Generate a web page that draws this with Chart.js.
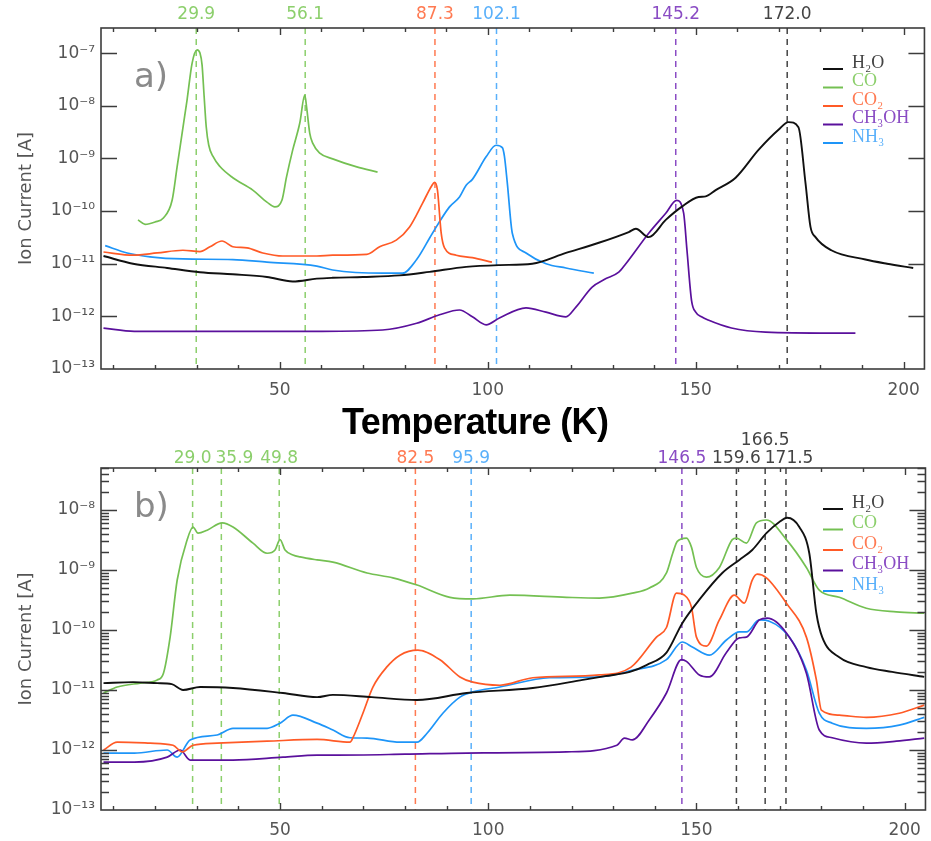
<!DOCTYPE html>
<html>
<head>
<meta charset="utf-8">
<script src="https://cdn.jsdelivr.net/npm/chart.js@4.4.0/dist/chart.umd.min.js"></script>
<style>
  html,body{margin:0;padding:0;background:#fff;}
  #wrap{position:relative;width:931px;height:841px;overflow:hidden;}
  canvas{position:absolute;left:0;}
  #xtitle{position:absolute;left:342px;top:404px;font-family:"Liberation Sans",Arial,sans-serif;font-weight:bold;font-size:36px;line-height:36px;letter-spacing:-0.6px;color:#000;white-space:nowrap;}
</style>
</head>
<body>
<div id="wrap">
  <canvas id="ca" width="931" height="430" style="top:0"></canvas>
  <canvas id="cb" width="931" height="411" style="top:430px"></canvas>
  <div id="xtitle">Temperature (K)</div>
</div>
<script>
// ---------- species ----------
const legendLabels = ['H₂O', 'CO', 'CO₂', 'CH₃OH', 'NH₃'];
const lineColors = ['#111111', '#74c052', '#ff5a26', '#5a109c', '#1e95f8'];
const textColors = ['#444444', '#8ccf6c', '#ff7a52', '#8a4cc4', '#5ab0fa'];

// ---------- panel a) data ----------
const tA_H2O = [7.6, 14.7, 22.9, 30.8, 38.7, 46.9, 53.1, 58.9, 62.7, 70, 78.8, 86, 94.8, 102.8, 110.7, 118.8, 126.7, 133.9, 135.6, 138.7, 142.8, 146.6, 150.7, 152.4, 154.8, 159.6, 165.1, 169.9, 172.3, 174.7, 176.4, 177.6, 178.8, 182.6, 190.8, 196, 202.3];
const vA_H2O = [1.4e-11, 1.0e-11, 8.3e-12, 6.9e-12, 6.3e-12, 5.6e-12, 4.6e-12, 5.2e-12, 5.4e-12, 5.6e-12, 6.0e-12, 7.0e-12, 8.7e-12, 9.4e-12, 1.0e-11, 1.6e-11, 2.5e-11, 4.0e-11, 4.6e-11, 3.2e-11, 6.8e-11, 1.2e-10, 1.85e-10, 1.9e-10, 2.5e-10, 4.3e-10, 1.45e-9, 3.5e-9, 4.9e-9, 3.9e-9, 3.4e-10, 5.0e-11, 3.2e-11, 1.8e-11, 1.2e-11, 1.0e-11, 8.3e-12];

const tA_CO = [15.9, 17.6, 20, 22, 24.1, 25.3, 26.5, 27.7, 28.9, 30.1, 30.8, 31.3, 31.8, 32.3, 32.9, 33.9, 35.6, 38.7, 43.5, 46.9, 48.8, 50.5, 51.6, 53.1, 54.8, 56, 56.4, 57.2, 57.9, 59.6, 62.7, 68.5, 73.5];
const vA_CO = [6.8e-11, 5.6e-11, 6.2e-11, 7.4e-11, 1.6e-10, 6.9e-10, 3e-9, 1.3e-8, 6.4e-8, 1.15e-7, 1.0e-7, 6e-8, 1.5e-8, 4e-9, 1.8e-9, 1.1e-9, 7e-10, 4.3e-10, 2.5e-10, 1.48e-10, 1.2e-10, 1.6e-10, 4.4e-10, 1.45e-9, 4.7e-9, 1.6e-8, 1.0e-8, 3e-9, 1.95e-9, 1.26e-9, 9.8e-10, 6.9e-10, 5.5e-10];

const tA_CO2 = [7.6, 14.7, 20.5, 26.7, 30.8, 33.2, 36.1, 38.7, 42.1, 45.9, 50.7, 58.9, 62.7, 70.9, 74, 78, 81.2, 84.3, 86.5, 87.2, 87.9, 88.8, 89.6, 92.4, 96.3, 101];
const vA_CO2 = [1.67e-11, 1.45e-11, 1.6e-11, 1.8e-11, 1.7e-11, 2.1e-11, 2.7e-11, 2.1e-11, 2.0e-11, 1.6e-11, 1.4e-11, 1.4e-11, 1.45e-11, 1.5e-11, 2.1e-11, 2.8e-11, 5e-11, 1.4e-10, 3e-10, 3.5e-10, 2.5e-10, 3.8e-11, 2e-11, 1.45e-11, 1.3e-11, 1.07e-11];

const tA_CH3OH = [7.6, 15, 30, 45, 60, 74.7, 82.9, 88.4, 93.2, 96.3, 99.6, 102.8, 109.2, 114, 118.8, 121.2, 125.1, 128, 131.5, 133.2, 138.7, 142.8, 145.4, 147.1, 147.9, 149, 150, 151.4, 153, 158.6, 166.8, 182.6, 188.4];
const vA_CH3OH = [6e-13, 5.2e-13, 5.2e-13, 5.2e-13, 5.2e-13, 5.5e-13, 7.4e-13, 1.07e-12, 1.32e-12, 9.8e-13, 6.9e-13, 9.3e-13, 1.45e-12, 1.2e-12, 9.8e-13, 1.5e-12, 3.6e-12, 5e-12, 6.9e-12, 1e-11, 3.8e-11, 9.1e-11, 1.6e-10, 9.1e-11, 1.8e-11, 2e-12, 1.2e-12, 9.8e-13, 8.5e-13, 6e-13, 5e-13, 4.8e-13, 4.8e-13];

const tA_NH3 = [8, 13.3, 18.8, 26.7, 38.7, 46.9, 58.9, 62.7, 74.7, 79.5, 82.9, 86.7, 90.8, 93.2, 94.8, 96.3, 99.6, 102, 103.5, 104, 104.7, 105.9, 109.2, 114, 118.8, 125.5];
const vA_NH3 = [2.2e-11, 1.6e-11, 1.35e-11, 1.23e-11, 1.2e-11, 1.07e-11, 9e-12, 7.6e-12, 6.6e-12, 6.6e-12, 1.2e-11, 3.8e-11, 1.2e-10, 1.85e-10, 3.1e-10, 4.0e-10, 1.07e-9, 1.78e-9, 1.6e-9, 1.1e-9, 3.4e-10, 3.8e-11, 1.6e-11, 1e-11, 8.3e-12, 6.6e-12];

// ---------- panel b) data ----------
const tB_H2O = [7.6, 14.7, 20.5, 24, 26.7, 30.8, 38.7, 50.7, 58.9, 62.7, 72, 82.9, 94.8, 110.7, 122.7, 128, 134, 138, 142.8, 146.6, 150.7, 156.2, 160.3, 163.4, 166.8, 169.9, 171.8, 174.7, 177.1, 178.8, 180.2, 184.3, 190.8, 197, 204.7];
const vB_H2O = [1.3e-11, 1.35e-11, 1.3e-11, 1.25e-11, 1.0e-11, 1.12e-11, 1.08e-11, 8.9e-12, 7.6e-12, 8.3e-12, 7.6e-12, 6.8e-12, 8.9e-12, 1.08e-11, 1.47e-11, 1.7e-11, 2.0e-11, 2.6e-11, 4.2e-11, 1.3e-10, 3.2e-10, 8.9e-10, 1.47e-9, 2.15e-9, 4.1e-9, 6.3e-9, 7.4e-9, 5.2e-9, 1.9e-9, 1.9e-10, 7.6e-11, 3.5e-11, 2.4e-11, 2.0e-11, 1.65e-11];

const tB_CO = [7.6, 10.9, 16.4, 20.5, 22, 23.6, 25.3, 27.7, 29.1, 30.3, 32.5, 36.1, 38.7, 43.5, 46.9, 48.8, 50, 51.2, 53.1, 54.8, 58.9, 62.7, 70.9, 77.1, 82.9, 90.8, 96.3, 105.2, 118.8, 126.7, 134.6, 138.7, 142.8, 144.3, 145.4, 147.6, 148.8, 150, 152.4, 155.5, 158.6, 159.6, 162, 164.4, 166.8, 171.6, 176.4, 179.5, 184.3, 190.8, 198, 204.7];
const vB_CO = [8.9e-12, 1.12e-11, 1.3e-11, 1.47e-11, 1.9e-11, 7.6e-11, 6.8e-10, 3.2e-9, 5.2e-9, 4.1e-9, 4.6e-9, 6.1e-9, 5.2e-9, 2.8e-9, 1.9e-9, 2.15e-9, 3.2e-9, 2.15e-9, 1.78e-9, 1.65e-9, 1.47e-9, 1.35e-9, 8.9e-10, 7.4e-10, 5.6e-10, 3.5e-10, 3.3e-10, 3.8e-10, 3.5e-10, 3.4e-10, 4.1e-10, 5e-10, 8.9e-10, 1.9e-9, 3.0e-9, 3.4e-9, 2.4e-9, 1.1e-9, 7.6e-10, 1.1e-9, 3.2e-9, 3.4e-9, 2.8e-9, 6.1e-9, 6.8e-9, 3.2e-9, 1.1e-9, 4.6e-10, 3.5e-10, 2.3e-10, 2.0e-10, 1.9e-10];

const tB_CO2 = [7.6, 10.9, 18.8, 24.3, 26.5, 29.1, 34.9, 46.9, 58.9, 66.8, 67.5, 69.9, 72.3, 75.6, 78.8, 83.1, 88.4, 93.2, 96.3, 102.8, 110.7, 126.7, 134.3, 140.4, 142.8, 145.2, 147.1, 148.8, 150, 152.4, 155.5, 159.1, 161.5, 163.4, 164.6, 166.8, 171.6, 176.4, 178.8, 180, 184.3, 190.8, 198.7, 204.7];
const vB_CO2 = [1e-12, 1.35e-12, 1.3e-12, 1.2e-12, 9.3e-13, 1.2e-12, 1.3e-12, 1.4e-12, 1.5e-12, 1.35e-12, 1.6e-12, 4.1e-12, 1.12e-11, 2.4e-11, 3.8e-11, 4.6e-11, 3.2e-11, 1.65e-11, 1.35e-11, 1.2e-11, 1.6e-11, 1.78e-11, 2.4e-11, 7.6e-11, 1.1e-10, 4.1e-10, 3.8e-10, 2.4e-10, 7.6e-11, 5.4e-11, 1.47e-10, 3.8e-10, 2.8e-10, 6.8e-10, 8.5e-10, 7.4e-10, 2.8e-10, 7.6e-11, 1.47e-11, 4.6e-12, 3.8e-12, 3.5e-12, 4.1e-12, 5.6e-12];

const tB_CH3OH = [7.6, 15, 22.9, 26, 28.4, 38.7, 50.7, 58.9, 62.7, 80, 94.8, 118.8, 130.9, 132.7, 134.6, 138.7, 142.8, 146.4, 147.6, 150.7, 153.1, 157.2, 160.3, 162, 165.1, 167, 171.6, 176.4, 179.5, 182.6, 190.8, 198, 204.7];
const vB_CH3OH = [6.3e-13, 6.3e-13, 7.6e-13, 1e-12, 6.8e-13, 6.8e-13, 7.6e-13, 8.2e-13, 8.2e-13, 8.5e-13, 8.9e-13, 9.3e-13, 1.2e-12, 1.58e-12, 1.47e-12, 3.2e-12, 8.9e-12, 3.2e-11, 3e-11, 1.78e-11, 1.65e-11, 4.2e-11, 7.4e-11, 7.6e-11, 1.47e-10, 1.58e-10, 8.9e-11, 1.9e-11, 2.15e-12, 1.6e-12, 1.3e-12, 1.4e-12, 1.58e-12];

const tB_NH3 = [7.6, 15, 22.9, 25.3, 28.4, 34.9, 38.7, 46.9, 50, 53.1, 58.9, 62.7, 66.8, 70.9, 78.8, 82.9, 85.3, 89.1, 93.2, 96.3, 102.8, 114.7, 126.7, 134.3, 142.8, 146.6, 149, 153.1, 157.2, 160.3, 162, 165.1, 167.5, 172.3, 176.4, 179.5, 182.6, 190.8, 198.7, 204.7];
const vB_NH3 = [8.9e-13, 8.9e-13, 1e-12, 7.6e-13, 1.47e-12, 1.78e-12, 2.3e-12, 2.3e-12, 2.8e-12, 3.8e-12, 2.8e-12, 2.15e-12, 1.6e-12, 1.58e-12, 1.35e-12, 1.35e-12, 1.9e-12, 4.1e-12, 7.6e-12, 9.3e-12, 1.12e-11, 1.6e-11, 1.65e-11, 2.1e-11, 3.2e-11, 6.3e-11, 5.2e-11, 3.8e-11, 6.8e-11, 9.3e-11, 9.3e-11, 1.47e-10, 1.4e-10, 7.6e-11, 2.15e-11, 4.1e-12, 2.8e-12, 2.3e-12, 2.6e-12, 3.5e-12];

// ---------- peak markers (species index into legendLabels) ----------
const peaksA = [29.9, 56.1, 87.3, 102.1, 145.2, 172.0];
const peaksASpecies = [1, 1, 2, 4, 3, 0];
const peaksB = [29.0, 35.9, 49.8, 82.5, 95.9, 146.5, 159.6, 166.5, 171.5];
const peaksBSpecies = [1, 1, 1, 2, 4, 3, 0, 0, 0];

// ---------- axis ranges ----------
const xMin = 7, xMax = 205, xStep = 10, xMajor = 50;
const yMinA = 1e-13, yMaxA = 3e-7;
const yMinB = 1e-13, yMaxB = 5e-8;

// ---------- helpers ----------
const FONT = '"DejaVu Sans", "Liberation Sans", sans-serif';
const SUP = {'-':'⁻','0':'⁰','1':'¹','2':'²','3':'³','4':'⁴','5':'⁵','6':'⁶','7':'⁷','8':'⁸','9':'⁹'};
function pts(t, v) { return t.map((x, i) => ({x: x, y: v[i]})); }
function isDecade(v) { const e = Math.log10(v); return Math.abs(e - Math.round(e)) < 1e-6; }
function decadeLabel(v) {
  if (!isDecade(v)) return '';
  const e = String(Math.round(Math.log10(v)));
  return '10' + e.split('').map(c => SUP[c]).join('');
}
function makeDatasets(series) {
  return series.map((s, i) => ({
    label: legendLabels[i],
    data: pts(s[0], s[1]),
    borderColor: lineColors[i],
    backgroundColor: lineColors[i],
    borderWidth: i === 0 ? 1.9 : 1.7,
    pointRadius: 0,
    fill: false,
    cubicInterpolationMode: 'monotone'
  }));
}

// frame + inward ticks
const framePlugin = {
  id: 'frame',
  afterDraw(chart) {
    const {ctx, chartArea: a, scales: {x, y}} = chart;
    ctx.save();
    ctx.strokeStyle = '#3c3c3c';
    ctx.lineWidth = 1.6;
    ctx.strokeRect(a.left, a.top, a.right - a.left, a.bottom - a.top);
    ctx.lineWidth = 1.4;
    ctx.beginPath();
    x.ticks.forEach(t => {
      const px = Math.round(x.getPixelForValue(t.value)) + 0.5;
      if (px < a.left || px > a.right) return;
      const L = (t.value % xMajor === 0) ? 7 : 4;
      ctx.moveTo(px, a.bottom); ctx.lineTo(px, a.bottom - L);
      ctx.moveTo(px, a.top); ctx.lineTo(px, a.top + L);
    });
    y.ticks.forEach(t => {
      const py = Math.round(y.getPixelForValue(t.value)) + 0.5;
      if (py < a.top || py > a.bottom) return;
      const L = isDecade(t.value) ? 16 : 8;
      ctx.moveTo(a.left, py); ctx.lineTo(a.left + L, py);
      ctx.moveTo(a.right, py); ctx.lineTo(a.right - L, py);
    });
    ctx.stroke();
    ctx.restore();
  }
};

// dashed peak lines + labels above the frame
const peaksPlugin = {
  id: 'peaks',
  beforeDatasetsDraw(chart, args, opts) {
    const {ctx, chartArea: a, scales: {x}} = chart;
    ctx.save();
    ctx.font = '17px ' + FONT;
    ctx.textAlign = 'center';
    ctx.textBaseline = 'middle';
    let prevEnd = -1e9;
    opts.values.forEach((v, i) => {
      const col = textColors[opts.species[i]];
      const px = x.getPixelForValue(v);
      ctx.strokeStyle = col;
      ctx.lineWidth = 1.5;
      ctx.setLineDash([6, 5]);
      ctx.beginPath();
      ctx.moveTo(px, a.top); ctx.lineTo(px, a.bottom);
      ctx.stroke();
      ctx.setLineDash([]);
      const label = v.toFixed(1);
      const w = ctx.measureText(label).width;
      let cx = px;
      let row = 0;
      if (cx - w / 2 < prevEnd + 4) {
        const shifted = prevEnd + 4 + w / 2;
        if (shifted - cx > 20) { row = 1; } else { cx = shifted; }
      }
      if (row === 0) prevEnd = cx + w / 2;
      ctx.fillStyle = col;
      ctx.fillText(label, cx, a.top - (row === 0 ? opts.gap0 : opts.gap1));
    });
    ctx.restore();
  }
};

// legend inside plot + panel tag
const legendPlugin = {
  id: 'innerLegend',
  afterDatasetsDraw(chart, args, opts) {
    const {ctx, chartArea: a} = chart;
    ctx.save();
    ctx.font = '18px "Liberation Serif", "DejaVu Serif", serif';
    ctx.textBaseline = 'middle';
    ctx.textAlign = 'left';
    chart.data.datasets.forEach((ds, i) => {
      const y = a.top + opts.y0 + i * opts.dy;
      ctx.strokeStyle = ds.borderColor;
      ctx.lineWidth = 2;
      ctx.beginPath();
      ctx.moveTo(823, y + 6); ctx.lineTo(843, y + 6);
      ctx.stroke();
      ctx.fillStyle = textColors[i];
      ctx.fillText(ds.label, 852, y);
    });
    ctx.font = '34px ' + FONT;
    ctx.fillStyle = '#8a8a8a';
    ctx.textBaseline = 'middle';
    ctx.fillText(opts.tag, 134, a.top + opts.tagY);
    ctx.restore();
  }
};

function makeChart(id, series, cfg) {
  return new Chart(document.getElementById(id), {
    type: 'line',
    data: {datasets: makeDatasets(series)},
    options: {
      responsive: false,
      animation: false,
      devicePixelRatio: 1,
      events: [],
      layout: {padding: {top: cfg.padTop, right: 5, left: 0, bottom: 0}},
      scales: {
        x: {
          type: 'linear', min: xMin, max: xMax,
          grid: {display: false, drawTicks: false},
          border: {display: false},
          afterBuildTicks: s => {
            const t = [];
            for (let v = Math.ceil(xMin / xStep) * xStep; v <= xMax; v += xStep) t.push({value: v});
            s.ticks = t;
          },
          afterFit: s => { s.height = cfg.xHeight; },
          ticks: {
            autoSkip: false, maxRotation: 0, padding: cfg.xPad,
            color: '#555', font: {family: FONT, size: 17},
            callback: v => (v % xMajor === 0 ? String(v) : '')
          }
        },
        y: {
          type: 'logarithmic', min: cfg.yMin, max: cfg.yMax,
          grid: {display: false, drawTicks: false},
          border: {display: false},
          afterBuildTicks: s => {
            const t = [];
            const e0 = Math.round(Math.log10(cfg.yMin));
            const e1 = Math.floor(Math.log10(cfg.yMax));
            for (let e = e0; e <= e1; e++) {
              const base = Math.pow(10, e);
              t.push({value: base});
              if (cfg.minor) {
                for (let m = 2; m <= 9; m++) {
                  const v = m * base;
                  if (v <= cfg.yMax) t.push({value: v});
                }
              }
            }
            s.ticks = t;
          },
          afterFit: s => { s.width = 101; },
          ticks: {
            autoSkip: false, padding: 6,
            color: '#555', font: {family: FONT, size: 17},
            callback: v => decadeLabel(v)
          },
          title: {
            display: true, text: 'Ion Current [A]', color: '#555',
            font: {family: FONT, size: 18}, padding: {top: 16, bottom: 0}
          }
        }
      },
      plugins: {
        legend: {display: false},
        tooltip: {enabled: false},
        peaks: cfg.peaks,
        innerLegend: cfg.legend
      }
    },
    plugins: [peaksPlugin, legendPlugin, framePlugin]
  });
}

makeChart('ca',
  [[tA_H2O, vA_H2O], [tA_CO, vA_CO], [tA_CO2, vA_CO2], [tA_CH3OH, vA_CH3OH], [tA_NH3, vA_NH3]],
  {padTop: 28, xHeight: 61, xPad: 11, yMin: yMinA, yMax: yMaxA, minor: false,
   peaks: {values: peaksA, species: peaksASpecies, gap0: 13, gap1: 27},
   legend: {y0: 35, dy: 18.5, tag: 'a)', tagY: 50}});

makeChart('cb',
  [[tB_H2O, vB_H2O], [tB_CO, vB_CO], [tB_CO2, vB_CO2], [tB_CH3OH, vB_CH3OH], [tB_NH3, vB_NH3]],
  {padTop: 38, xHeight: 31, xPad: 10, yMin: yMinB, yMax: yMaxB, minor: true,
   peaks: {values: peaksB, species: peaksBSpecies, gap0: 9.5, gap1: 27},
   legend: {y0: 35, dy: 20.5, tag: 'b)', tagY: 40}});
</script>
</body>
</html>
